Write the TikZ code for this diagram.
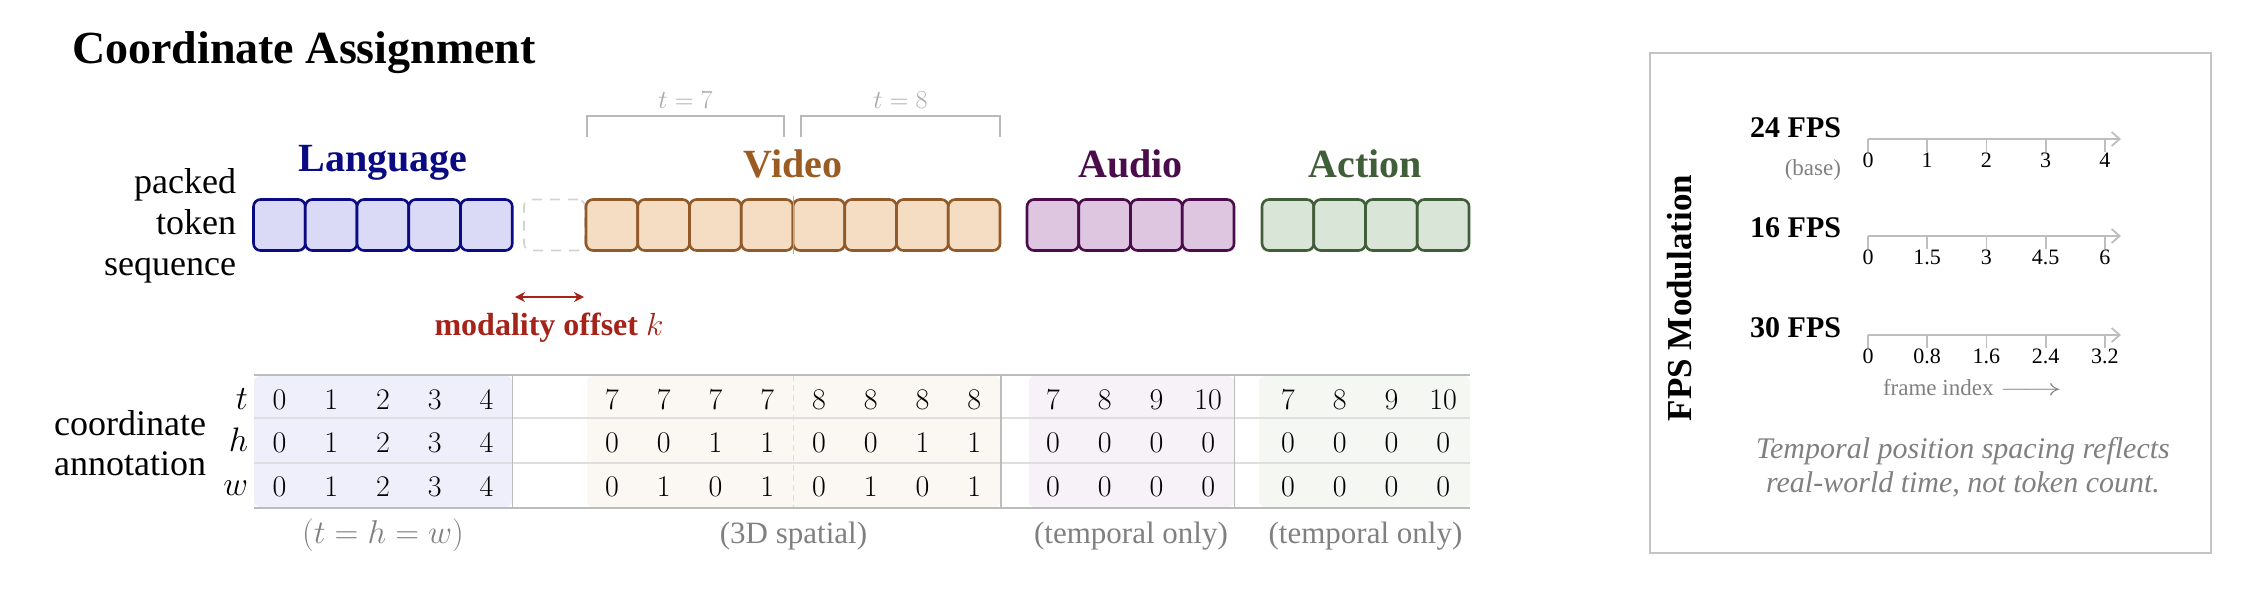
\RequirePackage{fix-cm}
\documentclass[tikz,border=0pt]{standalone}
\usepackage[no-math]{fontspec}
\setmainfont{Liberation Serif}
\usetikzlibrary{arrows.meta}
\newcommand{\myfs}[1]{\fontsize{#1}{#1}\selectfont}
\definecolor{langD}{RGB}{10,10,130}
\definecolor{langF}{RGB}{218,218,247}
\definecolor{vidD}{RGB}{145,90,40}
\definecolor{vidF}{RGB}{245,221,195}
\definecolor{vidT}{RGB}{155,92,35}
\definecolor{audD}{RGB}{74,12,74}
\definecolor{audF}{RGB}{222,198,224}
\definecolor{actD}{RGB}{65,94,58}
\definecolor{actF}{RGB}{217,230,215}
\definecolor{offRed}{RGB}{165,35,25}
\definecolor{langBg}{RGB}{239,239,252}
\definecolor{vidBg}{RGB}{251,248,243}
\definecolor{audBg}{RGB}{247,242,248}
\definecolor{actBg}{RGB}{244,247,242}
\definecolor{ruleG}{RGB}{188,188,188}
\definecolor{sepG}{RGB}{222,222,222}
\definecolor{brkG}{RGB}{185,185,185}
\definecolor{subG}{RGB}{128,128,128}
\definecolor{lblG}{RGB}{170,170,170}
\definecolor{slotG}{RGB}{210,210,210}
\definecolor{axG}{RGB}{190,190,190}
\definecolor{panelG}{RGB}{196,196,196}
\begin{document}
\begin{tikzpicture}[x=1pt,y=-1pt,
  every node/.style={inner sep=0pt, outer sep=0pt},
  tok/.style={draw, line width=2.6pt, rounded corners=7pt, minimum width=51.75pt, minimum height=51pt},
  grplbl/.style={anchor=base, font=\myfs{40}\bfseries},
  sidelbl/.style={anchor=base east, font=\myfs{36}},
  cell/.style={anchor=base, font=\myfs{30}},
  sublbl/.style={anchor=base, font=\myfs{31}, text=subG},
  brk/.style={draw=brkG, line width=2pt},
  tickl/.style={anchor=base, font=\myfs{22}},
  fpslbl/.style={anchor=base east, font=\myfs{30}\bfseries},
  axisline/.style={draw=axG, line width=1.8pt, -{Straight Barb[length=8pt,width=14pt,line width=1.8pt]}},
  tickline/.style={draw=axG, line width=1.8pt}
]
\useasboundingbox (0,0) rectangle (2250,590);

% title
\node[anchor=base west, font=\myfs{46}\bfseries] (title) at (72,63) {Coordinate Assignment};

% side labels
\node[sidelbl] (pk1) at (236,193) {packed};
\node[sidelbl] (pk2) at (236,234) {token};
\node[sidelbl] (pk3) at (236,275) {sequence};

% group labels
\node[grplbl, text=langD] (lLang) at (383,171.5) {Language};
\node[grplbl, text=vidT] (lVid) at (793,177) {Video};
\node[grplbl, text=audD] (lAud) at (1130.5,177) {Audio};
\node[grplbl, text=actD] (lAct) at (1365.5,177) {Action};

% brackets over video
\draw[brk] (587,137) -- (587,116) -- (784,116) -- (784,137);
\draw[brk] (801,137) -- (801,116) -- (1000,116) -- (1000,137);
\node[anchor=base, font=\myfs{26}, text=lblG] (t7) at (685.5,108) {$t=7$};
\node[anchor=base, font=\myfs{26}, text=lblG] (t8) at (900.5,108) {$t=8$};

% token boxes
\foreach \i in {0,...,4}
  \node[tok, draw=langD, fill=langF] (L\i) at ({279.4+51.75*\i},225) {};
\node[draw=slotG, line width=1.6pt, dash pattern=on 10pt off 8pt, rounded corners=7pt,
      minimum width=61pt, minimum height=51pt] (slot) at (554.5,225) {};
\foreach \i in {0,...,7}
  \node[tok, draw=vidD, fill=vidF] (V\i) at ({611.9+51.75*\i},225) {};
\draw[draw=lblG, line width=0.8pt] (793.5,196) -- (793.5,254);
\foreach \i in {0,...,3}
  \node[tok, draw=audD, fill=audF] (A\i) at ({1052.9+51.75*\i},225) {};
\foreach \i in {0,...,3}
  \node[tok, draw=actD, fill=actF] (C\i) at ({1287.9+51.75*\i},225) {};

% modality offset
\coordinate (o1) at (515,297);
\coordinate (o2) at (584,297);
\draw[draw=offRed, line width=2.4pt, {Stealth[length=10pt,width=10pt]}-{Stealth[length=10pt,width=10pt]}] (o1) -- (o2);
\node[anchor=base, font=\myfs{32}\bfseries, text=offRed] (offlbl) at (549,335) {modality offset $k$};

% table backgrounds
\fill[langBg, rounded corners=6pt] (254,376) rectangle (512,507);
\fill[vidBg, rounded corners=6pt] (587,376) rectangle (1000,507);
\fill[audBg, rounded corners=6pt] (1029,376) rectangle (1234,507);
\fill[actBg, rounded corners=6pt] (1259,376) rectangle (1470,507);
% table rules
\draw[draw=sepG, line width=1.2pt] (254,418) -- (1470,418);
\draw[draw=sepG, line width=1.2pt] (254,463) -- (1470,463);
\draw[draw=ruleG, line width=1.6pt] (512.5,375) -- (512.5,508);
\draw[draw=ruleG, line width=1.6pt] (1001,375) -- (1001,508);
\draw[draw=ruleG, line width=1.6pt] (1234.5,375) -- (1234.5,508);
\draw[draw=sepG, line width=1.2pt, dash pattern=on 6pt off 4pt] (793.5,375) -- (793.5,508);
\draw[draw=ruleG, line width=2.2pt] (254,375) -- (1470,375);
\draw[draw=ruleG, line width=2.2pt] (254,508) -- (1470,508);

% row labels
\node[sidelbl, font=\myfs{36}] (ca1) at (206,435) {coordinate};
\node[sidelbl, font=\myfs{36}] (ca2) at (206,475) {annotation};
\node[anchor=base east, font=\myfs{34}] (rt) at (248,409) {$t$};
\node[anchor=base east, font=\myfs{34}] (rh) at (248,451) {$h$};
\node[anchor=base east, font=\myfs{34}] (rw) at (248,495) {$w$};

% cells
\foreach \v [count=\i from 0] in {0,1,2,3,4} {
  \node[cell] (tL\i) at ({279.4+51.75*\i},409) {$\v$};
  \node[cell] (hL\i) at ({279.4+51.75*\i},452.5) {$\v$};
  \node[cell] (wL\i) at ({279.4+51.75*\i},496) {$\v$};
}
\foreach \v [count=\i from 0] in {7,7,7,7,8,8,8,8}
  \node[cell] (tV\i) at ({611.9+51.75*\i},409) {$\v$};
\foreach \v [count=\i from 0] in {0,0,1,1,0,0,1,1}
  \node[cell] (hV\i) at ({611.9+51.75*\i},452.5) {$\v$};
\foreach \v [count=\i from 0] in {0,1,0,1,0,1,0,1}
  \node[cell] (wV\i) at ({611.9+51.75*\i},496) {$\v$};
\foreach \v [count=\i from 0] in {7,8,9,10} {
  \node[cell] (tA\i) at ({1052.9+51.75*\i},409) {$\v$};
  \node[cell] (tC\i) at ({1287.9+51.75*\i},409) {$\v$};
}
\foreach \i in {0,...,3} {
  \node[cell] (hA\i) at ({1052.9+51.75*\i},452.5) {$0$};
  \node[cell] (wA\i) at ({1052.9+51.75*\i},496) {$0$};
  \node[cell] (hC\i) at ({1287.9+51.75*\i},452.5) {$0$};
  \node[cell] (wC\i) at ({1287.9+51.75*\i},496) {$0$};
}

% sub labels
\node[anchor=base, font=\myfs{33}, text=subG] (sL) at (383,543) {$(t = h = w)$};
\node[sublbl] (sV) at (793.5,543) {(3D spatial)};
\node[sublbl] (sA) at (1131,543) {(temporal only)};
\node[sublbl] (sC) at (1365.5,543) {(temporal only)};

% FPS panel
\draw[draw=panelG, line width=2pt] (1650,53) rectangle (2211,553);
\node[rotate=90, font=\myfs{35}\bfseries] (fpsm) at (1680,298) {FPS Modulation};

\node[fpslbl] (f24) at (1841,137) {24 FPS};
\node[anchor=base east, font=\myfs{23}, text=subG] (fbase) at (1841,175) {(base)};
\node[fpslbl] (f16) at (1841,237) {16 FPS};
\node[fpslbl] (f30) at (1841,337) {30 FPS};

\foreach \ay/\nm/\labs in {139/a/{0,1,2,3,4}, 236/b/{0,1.5,3,4.5,6}, 335/c/{0,0.8,1.6,2.4,3.2}} {
  \coordinate (\nm s) at (1868,\ay);
  \coordinate (\nm e) at (2121,\ay);
  \draw[axisline] (\nm s) -- (\nm e);
  \foreach \lb [count=\k from 0] in \labs {
    \draw[tickline] ({1868+59.2*\k},\ay) -- ({1868+59.2*\k},\ay+13);
    \node[tickl] (\nm l\k) at ({1868+59.2*\k},\ay+28) {\lb};
  }
}
\node[anchor=base west, font=\myfs{23}, text=subG] (fidx) at (1883,395) {frame index \scalebox{1.7}[1]{$\longrightarrow$}};

\node[anchor=base, font=\myfs{30}\itshape, text=subG] (cap1) at (1963,458) {Temporal position spacing reflects};
\node[anchor=base, font=\myfs{30}\itshape, text=subG] (cap2) at (1963,492) {real-world time, not token count.};
\end{tikzpicture}
\end{document}
